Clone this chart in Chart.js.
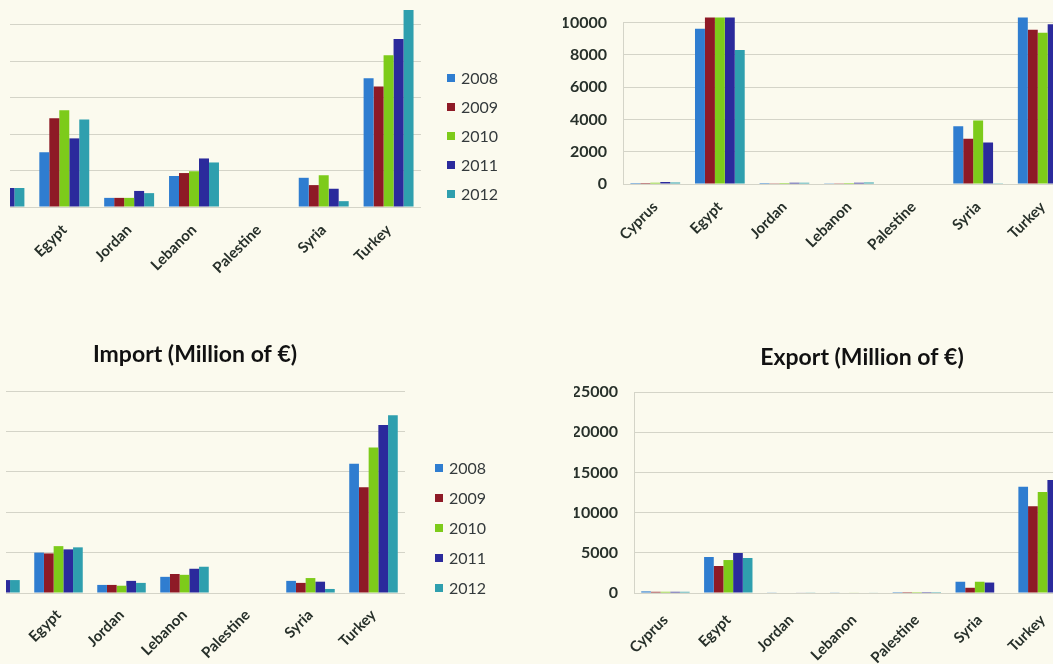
<!DOCTYPE html>
<html>
<head>
<meta charset="utf-8">
<script src="https://cdn.jsdelivr.net/npm/chart.js@4.4.1/dist/chart.umd.min.js"></script>
<style>
  html, body { margin: 0; padding: 0; }
  body { width: 1053px; height: 664px; overflow: hidden; position: relative; background: #fbfaee; }
  canvas { position: absolute; }
  /* the scan has a blank strip on its left edge */
  .edge { position: absolute; left: 0; background: #fbfaee; }
</style>
</head>
<body>
<canvas id="topLeft"></canvas>
<canvas id="topRight"></canvas>
<canvas id="importChart"></canvas>
<canvas id="exportChart"></canvas>
<div class="edge" style="top:0;width:10px;height:320px"></div>
<div class="edge" style="top:320px;width:6px;height:344px"></div>
<script>
var countries = ['Cyprus', 'Egypt', 'Jordan', 'Lebanon', 'Palestine', 'Syria', 'Turkey'];
var years = ['2008', '2009', '2010', '2011', '2012'];
var yearColors = ['#2f7dd0', '#8e1a26', '#7dcb1a', '#2b2a9c', '#2f9fae'];

// one row per year, values in country order
var topLeftValues = [
  [2500, 7500, 1250, 4250, 0, 4000, 17650],
  [2500, 12150, 1250, 4650, 0, 3000, 16500],
  [2600, 13250, 1250, 4900, 0, 4350, 20800],
  [2600, 9400, 2200, 6650, 0, 2500, 23000],
  [2600, 12000, 1900, 6100, 0, 800, 27000]
];
var topRightValues = [
  [60, 9620, 60, 50, 0, 3580, 12000],
  [60, 12000, 50, 50, 0, 2800, 9550],
  [80, 12000, 60, 60, 0, 3940, 9370],
  [120, 12000, 80, 80, 0, 2570, 9900],
  [100, 8300, 70, 90, 0, 40, 9600]
];
var importValues = [
  [1600, 5000, 1000, 2000, 0, 1500, 16000],
  [1600, 4900, 1000, 2350, 0, 1250, 13100],
  [1600, 5800, 900, 2250, 0, 1850, 18000],
  [1600, 5400, 1500, 3000, 0, 1400, 20800],
  [1600, 5650, 1250, 3250, 0, 500, 22000]
];
var exportValues = [
  [200, 4480, 80, 80, 10, 1400, 13200],
  [150, 3360, 60, 60, 10, 650, 10800],
  [150, 4100, 60, 70, 10, 1400, 12550],
  [150, 4975, 70, 60, 10, 1300, 14050],
  [150, 4350, 80, 70, 10, 60, 13800]
];

//legend and title drawn where the scan has them
var panelText = {
  id: 'panelText',
  afterDraw: function(chart, args, opts){
    var ctx = chart.ctx;
    ctx.save();
    if(opts.legend){
      var lg = opts.legend;
      ctx.font = '16px Lato';
      ctx.textBaseline = 'middle';
      ctx.textAlign = 'left';
      chart.data.datasets.forEach(function(ds, i){
        var y = lg.y + i*lg.step;
        ctx.fillStyle = ds.backgroundColor;
        ctx.fillRect(lg.x, y - 4, 8, 8);
        ctx.fillStyle = '#343a3c';
        ctx.fillText(ds.label, lg.x + 14, y + 1);
      });
    }
    if(opts.title){
      ctx.font = 'bold 23px Lato';
      ctx.fillStyle = '#111';
      ctx.textAlign = 'center';
      ctx.textBaseline = 'middle';
      ctx.fillText(opts.title.text, opts.title.x, opts.title.y);
    }
    ctx.restore();
  }
};

var makeChart = function(id, pos, values, o){
  var canvas = document.getElementById(id);
  canvas.width = pos.w;
  canvas.height = pos.h;
  canvas.style.left = pos.x + 'px';
  canvas.style.top = pos.y + 'px';

  var text = {};
  if(o.legend) text.legend = { x: o.legend.x - pos.x, y: o.legend.y - pos.y, step: o.legend.step };
  if(o.title) text.title = { text: o.title.text, x: o.title.x - pos.x, y: o.title.y - pos.y };

  var datasets = years.map(function(y, i){
    return {
      label: y,
      data: values[i],
      backgroundColor: yearColors[i],
      clip: { left: 0, top: 5, right: 0, bottom: 0 }
    };
  });

  return new Chart(canvas, {
    type: 'bar',
    data: { labels: countries, datasets: datasets },
    options: {
      responsive: false,
      animation: false,
      layout: { padding: o.pad },
      datasets: { bar: { categoryPercentage: 0.77, barPercentage: 1 } },
      scales: {
        x: {
          grid: { display: false },
          border: { display: false },
          ticks: {
            autoSkip: false, minRotation: 45, maxRotation: 45, padding: o.xPad,
            color: '#27302a', font: { family: 'Lato', size: 15, weight: 'bold' }
          },
          afterFit: function(s){ s.height = 100; }
        },
        y: {
          min: 0, max: o.max,
          ticks: {
            display: o.yW > 0, stepSize: o.step, padding: 16,
            color: '#27302a', font: { family: 'Lato', size: 16, weight: 'bold' },
            callback: function(v){ return v; }
          },
          grid: { color: '#d4d4c8', drawTicks: false },
          border: { display: o.yW > 0, color: '#d4d4c8' },
          afterFit: function(s){ s.width = o.yW; }
        }
      },
      plugins: {
        legend: { display: false },
        tooltip: { enabled: false },
        panelText: text
      }
    },
    plugins: [panelText]
  });
};

makeChart('topLeft', { x: -43, y: -22, w: 563, h: 329 }, topLeftValues, {
  pad: { left: 10, right: 99, top: 10, bottom: 0 }, yW: 0, max: 30000, step: 5000, xPad: 6,
  legend: { x: 447, y: 78, step: 29 }
});

makeChart('topRight', { x: 553, y: -3, w: 532, h: 287 }, topRightValues, {
  pad: { left: 10, right: 10, top: 20, bottom: 0 }, yW: 60, max: 10000, step: 2000, xPad: 6
});

makeChart('importChart', { x: -46, y: 320, w: 566, h: 373 }, importValues, {
  pad: { left: 10, right: 115, top: 71, bottom: 0 }, yW: 0, max: 25000, step: 5000, xPad: 5,
  legend: { x: 435, y: 468, step: 30 },
  title: { text: 'Import (Million of €)', x: 195, y: 355 }
});

makeChart('exportChart', { x: 564, y: 320, w: 520, h: 373 }, exportValues, {
  pad: { left: 10, right: 10, top: 72, bottom: 0 }, yW: 60, max: 25000, step: 5000, xPad: 10,
  title: { text: 'Export (Million of €)', x: 862, y: 358 }
});
</script>
</body>
</html>
